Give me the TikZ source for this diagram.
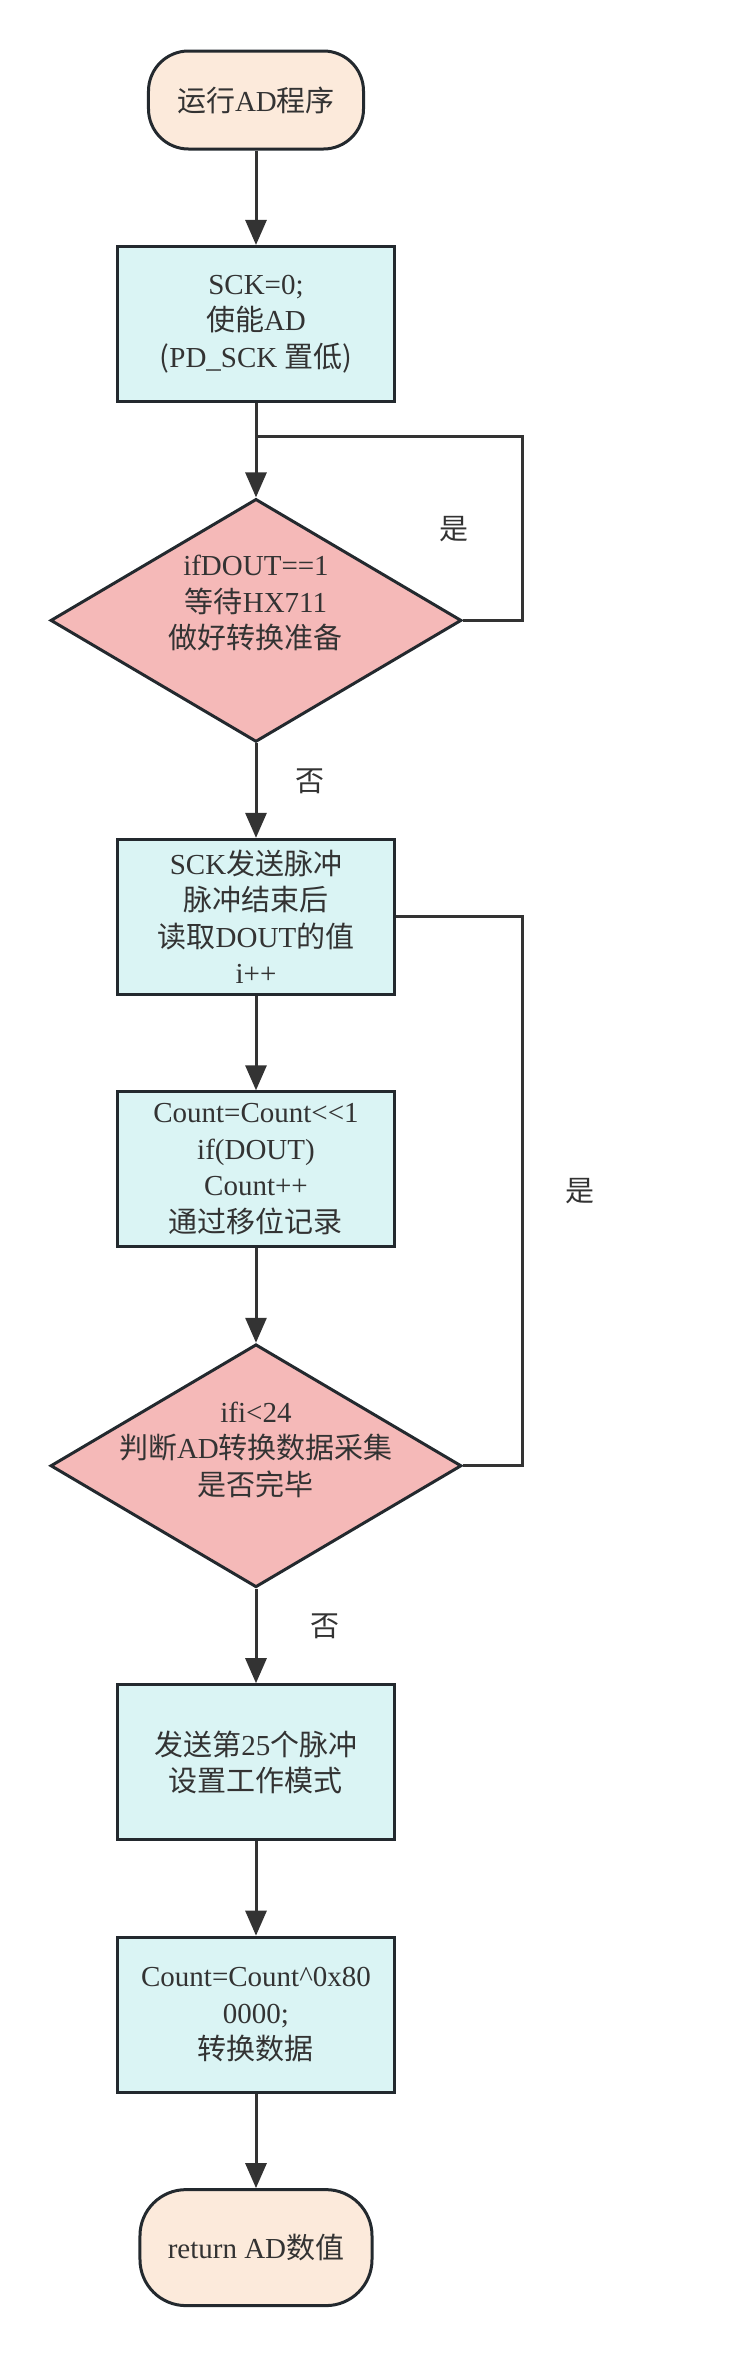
\documentclass[tikz,border=0pt]{standalone}
\usepackage{fontspec}
\setmainfont{Liberation Serif}
\newfontfamily\zhfont{Noto Sans CJK SC}
\newcommand{\zh}[1]{{\zhfont #1}}
\usetikzlibrary{arrows.meta,positioning,shapes.geometric}
\definecolor{inkgrey}{HTML}{333333}
\definecolor{edgegrey}{HTML}{23292E}
\definecolor{boxfill}{HTML}{DAF4F4}
\definecolor{askfill}{HTML}{F5B9B8}
\definecolor{endfill}{HTML}{FCEADB}
\tikzset{
  base/.style={draw=edgegrey,line width=3pt,text=inkgrey,align=center,font=\fontsize{29}{36.5}\selectfont},
  terminal/.style={base,fill=endfill,rounded corners=40pt,minimum width=215pt,minimum height=98pt},
  process/.style={base,fill=boxfill,minimum width=276pt,minimum height=155pt,inner sep=0pt},
  decision/.style={base,diamond,fill=askfill,minimum width=411pt,minimum height=243pt,inner sep=0pt},
  inside/.style={text=inkgrey,align=center,inner sep=0pt,font=\fontsize{29}{36.5}\selectfont},
  flow/.style={draw=inkgrey,line width=3pt,-{Triangle[width=21pt,length=25pt]}},
  loop line/.style={draw=inkgrey,line width=3pt},
  reply/.style={text=inkgrey,inner sep=0pt,font=\zhfont\fontsize{29}{36.5}\selectfont}
}

\begin{document}
\begin{tikzpicture}[node distance=94.45pt]
  \useasboundingbox (-256pt,100pt) rectangle (473pt,-2256pt);
  \node[terminal] (start) at (0,0) {\zh{运行}AD\zh{程序}};
  \node[process,below=of start] (box1) {SCK=0;\\\zh{使能}AD\\\zh{(}PD\_SCK \zh{置低)}};
  \node[decision,below=of box1] (d1) {};
  \node[inside] (d1text) at ([yshift=17pt]d1.center) {ifDOUT==1\\\zh{等待}HX711\\\zh{做好转换准备}};
  \node[process,below=of d1] (box2) {SCK\zh{发送脉冲}\\\zh{脉冲结束后}\\\zh{读取}DOUT\zh{的值}\\i++};
  \node[process,below=of box2] (box3) {Count=Count<{}<1\\if(DOUT)\\Count++\\\zh{通过移位记录}};
  \node[decision,below=of box3] (d2) {};
  \node[inside] (d2text) at ([yshift=16pt]d2.center) {ifi<24\\\zh{判断}AD\zh{转换数据采集}\\\zh{是否完毕}};
  \node[process,below=of d2] (box4) {\zh{发送第}25\zh{个脉冲}\\\zh{设置工作模式}};
  \node[process,below=of box4] (box5) {Count=Count\textasciicircum 0x80\\0000;\\\zh{转换数据}};
  \node[terminal,below=of box5,minimum width=232pt,minimum height=116pt,rounded corners=46pt] (finish) {return AD\zh{数值}};

  % main line
  \draw[flow] (start) -- (box1);
  \draw[flow] (box1) -- (d1);
  \draw[flow] (d1) -- node[pos=.4,right=38pt,reply] {否} (box2);
  \draw[flow] (box2) -- (box3);
  \draw[flow] (box3) -- (d2);
  \draw[flow] (d2) -- node[pos=.4,right=53pt,reply] {否} (box4);
  \draw[flow] (box4) -- (box5);
  \draw[flow] (box5) -- (finish);

  % wait loop
  \coordinate[below=34pt of box1] (merge1);
  \coordinate[right=266pt of merge1] (turn1);
  \draw[loop line] (d1.east) -| node[pos=.75,left=52pt,reply] {是} (turn1) -- (merge1);

  % bit loop
  \coordinate (turn2) at (turn1 |- d2.east);
  \draw[loop line] (d2.east) -- (turn2) |- node[pos=.25,right=42pt,reply] {是} (box2.east);
\end{tikzpicture}
\end{document}
